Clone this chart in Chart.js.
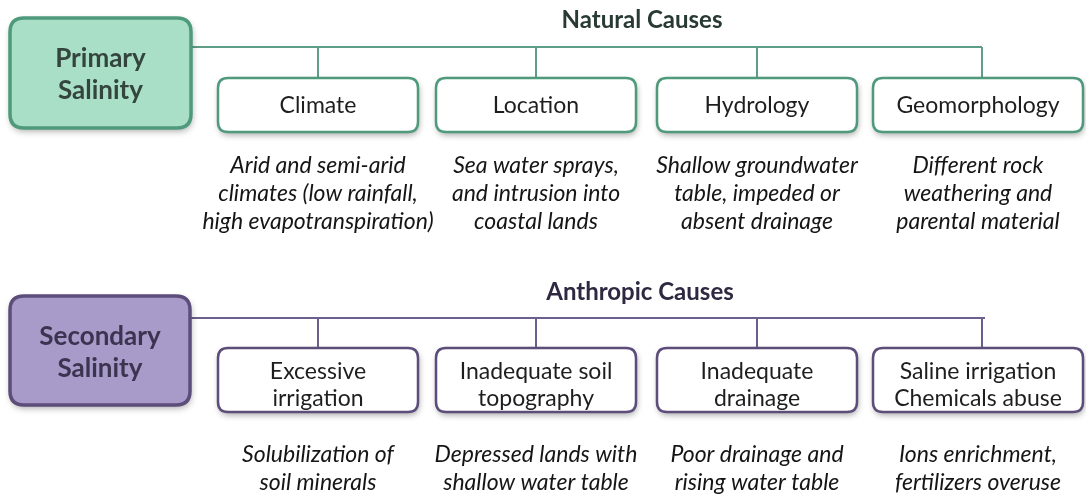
<!DOCTYPE html>
<html>
<head>
<meta charset="utf-8">
<script src="https://cdn.jsdelivr.net/npm/chart.js@4.4.1/dist/chart.umd.min.js"></script>
<style>
html,body{margin:0;padding:0;background:#fff;}
#wrap{width:1086px;height:495px;position:relative;}
</style>
</head>
<body>
<div id="wrap"><canvas id="c" width="1086" height="495"></canvas></div>
<script>
// ---- content ----
const mainLabels = [["Primary","Salinity"],["Secondary","Salinity"]];
const groupTitles = ["Natural Causes","Anthropic Causes"];
const naturalCauses = [["Climate"],["Location"],["Hydrology"],["Geomorphology"]];
const naturalDescriptions = [
  ["Arid and semi-arid","climates (low rainfall,","high evapotranspiration)"],
  ["Sea water sprays,","and intrusion into","coastal lands"],
  ["Shallow groundwater","table, impeded or","absent drainage"],
  ["Different rock","weathering and","parental material"]
];
const anthropicCauses = [["Excessive","irrigation"],["Inadequate soil","topography"],["Inadequate","drainage"],["Saline irrigation","Chemicals abuse"]];
const anthropicDescriptions = [
  ["Solubilization of","soil minerals"],
  ["Depressed lands with","shallow water table"],
  ["Poor drainage and","rising water table"],
  ["Ions enrichment,","fertilizers overuse"]
];

// ---- layout (diagram coordinates in scale units) ----
const FONT = 'Lato, "Open Sans", sans-serif';
const colX = [[218,418],[436,636],[657,857],[873,1083]];
const dropX = [318,536,757,982];
const rows = [
  {main:[10,18,191,128], mainTextY:[59,91], titleX:642, titleY:20, busY:47, busEnd:982,
   boxY:[78,132], boxTextY:[106], descY:[166,194,222],
   fill:'#a9dfc7', border:'#4f9a7c', line:'#5e9e86', mainText:'#34453e', titleColor:'#283a33',
   causes:naturalCauses, desc:naturalDescriptions},
  {main:[10,296,190,405], mainTextY:[337,369], titleX:640, titleY:292, busY:318, busEnd:985,
   boxY:[348,412], boxTextY:[372,399], descY:[455,483],
   fill:'#a99bc9', border:'#5c4d7a', line:'#6c5f8c', mainText:'#3c3350', titleColor:'#2e2840',
   causes:anthropicCauses, desc:anthropicDescriptions}
];

function rr(ctx,x,y,w,h,r){
  ctx.beginPath();
  ctx.moveTo(x+r,y);
  ctx.lineTo(x+w-r,y);ctx.quadraticCurveTo(x+w,y,x+w,y+r);
  ctx.lineTo(x+w,y+h-r);ctx.quadraticCurveTo(x+w,y+h,x+w-r,y+h);
  ctx.lineTo(x+r,y+h);ctx.quadraticCurveTo(x,y+h,x,y+h-r);
  ctx.lineTo(x,y+r);ctx.quadraticCurveTo(x,y,x+r,y);
  ctx.closePath();
}

const diagramPlugin = {
  id:'diagram',
  afterDraw(chart){
    const ctx = chart.ctx, xs = chart.scales.x, ys = chart.scales.y;
    const X = v => xs.getPixelForValue(v), Y = v => ys.getPixelForValue(v);
    ctx.save();
    ctx.textAlign='center'; ctx.textBaseline='middle';
    rows.forEach((r,ri)=>{
      // title
      ctx.fillStyle=r.titleColor;
      ctx.font='bold 24px '+FONT;
      ctx.fillText(groupTitles[ri], X(r.titleX), Y(r.titleY));
      // bus lines
      ctx.strokeStyle=r.line; ctx.lineWidth=2;
      ctx.beginPath();
      ctx.moveTo(X(r.main[2]), Y(r.busY)); ctx.lineTo(X(r.busEnd), Y(r.busY));
      dropX.forEach(dx=>{ ctx.moveTo(X(dx),Y(r.busY)); ctx.lineTo(X(dx),Y(r.boxY[0])); });
      ctx.stroke();
      // main box
      const [mx0,my0,mx1,my1]=r.main;
      ctx.save();
      ctx.shadowColor='rgba(0,0,0,0.35)'; ctx.shadowBlur=7; ctx.shadowOffsetX=1; ctx.shadowOffsetY=3;
      rr(ctx,X(mx0),Y(my0),X(mx1)-X(mx0),Y(my1)-Y(my0),14);
      ctx.fillStyle=r.fill; ctx.fill();
      ctx.restore();
      rr(ctx,X(mx0),Y(my0),X(mx1)-X(mx0),Y(my1)-Y(my0),14);
      ctx.lineWidth=3.5; ctx.strokeStyle=r.border; ctx.stroke();
      ctx.fillStyle=r.mainText; ctx.font='bold 26px '+FONT;
      mainLabels[ri].forEach((t,i)=>ctx.fillText(t, X((mx0+mx1)/2), Y(r.mainTextY[i])));
      // cause boxes
      colX.forEach((c,ci)=>{
        ctx.save();
        ctx.shadowColor='rgba(0,0,0,0.35)'; ctx.shadowBlur=6; ctx.shadowOffsetX=1; ctx.shadowOffsetY=3;
        rr(ctx,X(c[0]),Y(r.boxY[0]),X(c[1])-X(c[0]),Y(r.boxY[1])-Y(r.boxY[0]),10);
        ctx.fillStyle='#fff'; ctx.fill();
        ctx.restore();
        rr(ctx,X(c[0]),Y(r.boxY[0]),X(c[1])-X(c[0]),Y(r.boxY[1])-Y(r.boxY[0]),10);
        ctx.lineWidth=2.5; ctx.strokeStyle=r.border; ctx.stroke();
        ctx.fillStyle='#1e1e1e'; ctx.font='23px '+FONT;
        const cx = X((c[0]+c[1])/2);
        r.causes[ci].forEach((t,i)=>ctx.fillText(t, cx, Y(r.boxTextY[i])));
        ctx.font='italic 23px '+FONT; ctx.fillStyle='#151515';
        r.desc[ci].forEach((t,i)=>ctx.fillText(t, cx, Y(r.descY[i])));
      });
    });
    ctx.restore();
  }
};

new Chart(document.getElementById('c'),{
  type:'scatter',
  data:{datasets:[{data:[],pointRadius:0}]},
  options:{
    responsive:false, animation:false,
    layout:{padding:0},
    plugins:{legend:{display:false},tooltip:{enabled:false}},
    scales:{
      x:{type:'linear',min:0,max:1086,display:false},
      y:{type:'linear',min:0,max:495,reverse:true,display:false}
    }
  },
  plugins:[diagramPlugin]
});
</script>
</body>
</html>
